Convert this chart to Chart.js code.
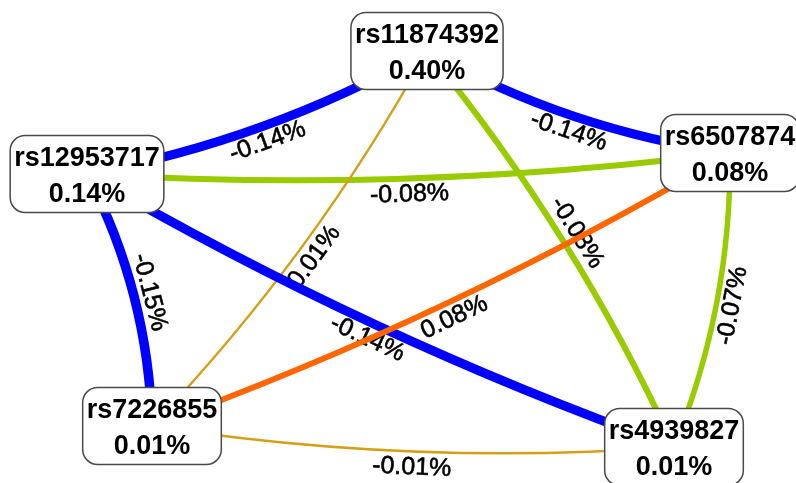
<!DOCTYPE html>
<html>
<head>
<meta charset="utf-8">
<script src="https://cdn.jsdelivr.net/npm/chart.js@4/dist/chart.umd.min.js"></script>
<style>
    html, body { margin: 0; padding: 0; background: #fff; }
    #net { display: block; }
</style>
</head>
<body>
<canvas id="net" width="796" height="483"></canvas>
<script>
    // nodes: SNP id and its value (%)
    var nodeNames = ['rs11874392', 'rs12953717', 'rs6507874', 'rs7226855', 'rs4939827'];
    var nodeValues = [0.40, 0.14, 0.08, 0.01, 0.01];

    // edges between nodes, value (%)
    var edgeFrom = ['rs12953717', 'rs4939827', 'rs4939827', 'rs7226855', 'rs7226855',
                    'rs12953717', 'rs11874392', 'rs7226855', 'rs12953717', 'rs7226855'];
    var edgeTo = ['rs6507874', 'rs11874392', 'rs6507874', 'rs11874392', 'rs4939827',
                  'rs11874392', 'rs6507874', 'rs12953717', 'rs4939827', 'rs6507874'];
    var edgeValues = [-0.08, -0.08, -0.07, 0.01, -0.01, -0.14, -0.14, -0.15, -0.14, 0.08];

    // layout of the nodes (scale units)
    var nodeX = [427, 87, 730, 152, 674];
    var nodeY = [51, 174, 153, 426, 447];

    var BEND = 15;       // arc height of an edge
    var LABEL_OFF = 31;  // distance of edge label from the chord
    var NODE_FONT = 'bold 27px "Liberation Sans", Arial, sans-serif';
    var EDGE_FONT = '25px "Liberation Sans", Arial, sans-serif';

    function edgeColor(v) {
        if (v <= -0.1) return '#0000ff';
        if (v < -0.03) return '#99cc00';
        if (v > 0.03) return '#ff6600';
        return '#d4a017';
    }

    function edgeWidth(v) {
        return 2 + 50 * Math.abs(v);
    }

    function fmt(v) {
        return v.toFixed(2) + '%';
    }

    function nodePixel(chart, name) {
        var i = nodeNames.indexOf(name);
        var pt = chart.getDatasetMeta(0).data[i];
        return {x: pt.x, y: pt.y};
    }

    var networkPlugin = {
        id: 'network',
        beforeDatasetsDraw: function (chart) {
            var ctx = chart.ctx;
            ctx.save();
            for (var i = 0; i < edgeValues.length; i++) {
                var a = nodePixel(chart, edgeFrom[i]);
                var b = nodePixel(chart, edgeTo[i]);
                var dx = b.x - a.x, dy = b.y - a.y;
                var len = Math.sqrt(dx * dx + dy * dy);
                var nx = -dy / len, ny = dx / len;
                var mx = (a.x + b.x) / 2, my = (a.y + b.y) / 2;

                ctx.beginPath();
                ctx.moveTo(a.x, a.y);
                ctx.quadraticCurveTo(mx + nx * 2 * BEND, my + ny * 2 * BEND, b.x, b.y);
                ctx.strokeStyle = edgeColor(edgeValues[i]);
                ctx.lineWidth = edgeWidth(edgeValues[i]);
                ctx.lineCap = 'butt';
                ctx.stroke();

                var ang = Math.atan2(dy, dx);
                if (ang > Math.PI / 2) ang -= Math.PI;
                if (ang < -Math.PI / 2) ang += Math.PI;
                ctx.save();
                ctx.translate(mx + nx * LABEL_OFF, my + ny * LABEL_OFF);
                ctx.rotate(ang);
                ctx.font = EDGE_FONT;
                ctx.fillStyle = '#000';
                ctx.strokeStyle = '#000';
                ctx.lineWidth = 0.6;
                ctx.textAlign = 'center';
                ctx.textBaseline = 'middle';
                ctx.fillText(fmt(edgeValues[i]), 0, 0);
                ctx.strokeText(fmt(edgeValues[i]), 0, 0);
                ctx.restore();
            }
            ctx.restore();
        },
        afterDatasetsDraw: function (chart) {
            var ctx = chart.ctx;
            ctx.save();
            ctx.font = NODE_FONT;
            for (var i = 0; i < nodeNames.length; i++) {
                var p = nodePixel(chart, nodeNames[i]);
                var w = ctx.measureText(nodeNames[i]).width + 8;
                var h = 77, r = 15;
                var x0 = p.x - w / 2, y0 = p.y - h / 2;
                ctx.beginPath();
                ctx.moveTo(x0 + r, y0);
                ctx.arcTo(x0 + w, y0, x0 + w, y0 + h, r);
                ctx.arcTo(x0 + w, y0 + h, x0, y0 + h, r);
                ctx.arcTo(x0, y0 + h, x0, y0, r);
                ctx.arcTo(x0, y0, x0 + w, y0, r);
                ctx.closePath();
                ctx.fillStyle = '#fff';
                ctx.fill();
                ctx.lineWidth = 1.5;
                ctx.strokeStyle = '#4a4a4a';
                ctx.stroke();

                ctx.fillStyle = '#000';
                ctx.textAlign = 'center';
                ctx.textBaseline = 'middle';
                ctx.fillText(nodeNames[i], p.x, p.y - 15);
                ctx.fillText(fmt(nodeValues[i]), p.x, p.y + 21);
            }
            ctx.restore();
        }
    };

    var points = nodeNames.map(function (n, i) {
        return {x: nodeX[i], y: nodeY[i]};
    });

    new Chart(document.getElementById('net').getContext('2d'), {
        type: 'scatter',
        data: {
            datasets: [{
                data: points,
                pointRadius: 0,
                pointHoverRadius: 0
            }]
        },
        options: {
            responsive: false,
            animation: false,
            devicePixelRatio: 1,
            layout: {padding: 0},
            plugins: {legend: {display: false}, tooltip: {enabled: false}},
            scales: {
                x: {type: 'linear', min: 0, max: 796, display: false},
                y: {type: 'linear', min: 0, max: 483, reverse: true, display: false}
            }
        },
        plugins: [networkPlugin]
    });
</script>
</body>
</html>
